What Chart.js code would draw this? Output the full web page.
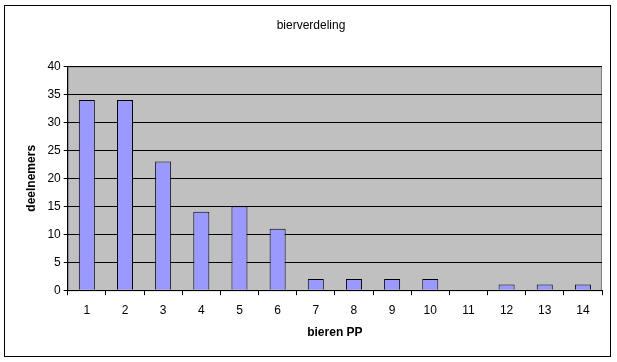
<!DOCTYPE html>
<html>
<head>
<meta charset="utf-8">
<script src="https://cdn.jsdelivr.net/npm/chart.js@4/dist/chart.umd.min.js"></script>
<style>
  html, body { margin: 0; padding: 0; background: #fff; }
  #wrap { width: 617px; height: 362px; }
</style>
</head>
<body>
<div id="wrap"><canvas id="grafiek" width="617" height="362"></canvas></div>
<script>
const categorieen = ['1', '2', '3', '4', '5', '6', '7', '8', '9', '10', '11', '12', '13', '14'];
const deelnemers = [34, 34, 23, 14, 15, 11, 2, 2, 2, 2, 0, 1, 1, 1];
const yTicks = [0, 5, 10, 15, 20, 25, 30, 35, 40];

// grijze plotachtergrond en zwarte rand rondom de grafiek
const achtergrond = {
    id: 'achtergrond',
    beforeDraw(chart) {
        const ctx = chart.ctx;
        const a = chart.chartArea;
        ctx.save();
        ctx.fillStyle = '#fff';
        ctx.fillRect(0, 0, chart.width, chart.height);
        ctx.strokeStyle = '#000';
        ctx.lineWidth = 1;
        ctx.strokeRect(4.5, 5.5, 606, 351);
        ctx.fillStyle = '#c0c0c0';
        ctx.fillRect(a.left, a.top, a.right - a.left, a.bottom - a.top);
        ctx.strokeStyle = '#808080';
        ctx.strokeRect(a.left + 0.5, a.top + 0.5, a.right - a.left - 1, a.bottom - a.top);
        ctx.restore();
    }
};

Chart.defaults.font.family = 'Arial, "Liberation Sans", sans-serif';
Chart.defaults.color = '#000';

new Chart(document.getElementById('grafiek').getContext('2d'), {
    type: 'bar',
    data: {
        labels: categorieen,
        datasets: [{
            label: 'deelnemers',
            data: deelnemers,
            backgroundColor: '#9999ff',
            borderColor: '#000',
            borderWidth: 1,
            barPercentage: 0.42,
            categoryPercentage: 1.0
        }]
    },
    plugins: [achtergrond],
    options: {
        responsive: false,
        animation: false,
        layout: { padding: { left: 20, right: 15, top: 10, bottom: 18 } },
        plugins: {
            legend: { display: false },
            tooltip: { enabled: false },
            title: {
                display: true,
                text: 'bierverdeling',
                font: { size: 12, weight: 'normal' },
                padding: { top: 8, bottom: 34 }
            }
        },
        scales: {
            x: {
                offset: true,
                grid: { display: true, offset: true, drawOnChartArea: false, drawTicks: true, tickLength: 5, color: '#000' },
                border: { display: true, color: '#000' },
                ticks: { font: { size: 12 }, padding: 8, maxRotation: 0 },
                title: { display: true, text: 'bieren PP', font: { size: 12, weight: 'bold' }, padding: { top: 0 } }
            },
            y: {
                min: 0,
                max: 40,
                afterBuildTicks(scale) { scale.ticks = yTicks.map(v => ({ value: v })); },
                grid: { color: '#000', tickLength: 4 },
                border: { display: true, color: '#000' },
                ticks: { font: { size: 12 }, padding: 3 },
                title: { display: true, text: 'deelnemers', font: { size: 12, weight: 'bold' }, padding: { bottom: 6 } }
            }
        }
    }
});
</script>
</body>
</html>
